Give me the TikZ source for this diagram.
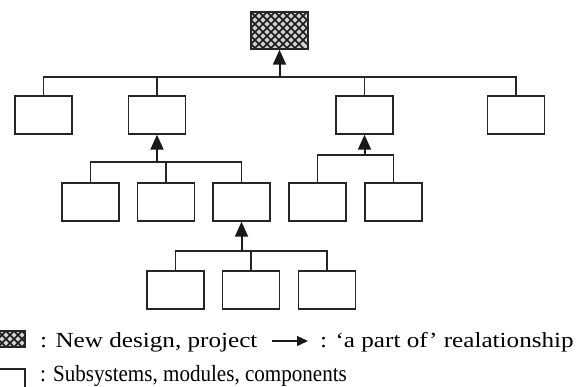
\documentclass[tikz,border=0pt]{standalone}
\usepackage{fontspec}
\setmainfont{Liberation Serif}
\usetikzlibrary{arrows.meta}
\begin{document}
\begin{tikzpicture}[x=1pt,y=-1pt,
  box/.style={draw=black!85,line width=1.4pt,minimum width=57pt,minimum height=38pt,inner sep=0pt,fill=white},
  conn/.style={draw=black!85,line width=1.2pt},
  partof/.style={draw=black!90,line width=2pt,-{Triangle[length=15pt,width=13pt]}},
  legtext/.style={anchor=base west,inner sep=0pt,font=\fontsize{21.5}{24}\selectfont}]
\useasboundingbox (0,0) rectangle (585,387);
% hatched helper
\newcommand{\hatchfill}[4]{%
  \begin{scope}
    \clip (#1,#2) rectangle (#3,#4);
    \fill[black!18] (#1,#2) rectangle (#3,#4);
    \foreach \k in {-80,-72,...,80}{
      \draw[black!90,line width=1.7pt] (#1+\k,#2) -- ++(60,60);
      \draw[black!90,line width=1.7pt] (#1+\k,#2) -- ++(-60,60);
    }
  \end{scope}}
% root
\hatchfill{251}{12}{308}{49}
\node[box,fill=none,minimum height=37pt] (r) at (279.5,30.5) {};
% level 1
\node[box] (a1) at (43.5,115) {};
\node[box] (a2) at (157,115) {};
\node[box] (a3) at (364.5,115) {};
\node[box] (a4) at (516,115) {};
% level 2
\node[box] (c1) at (90.5,202) {};
\node[box] (c2) at (166,202) {};
\node[box] (c3) at (241.5,202) {};
\node[box] (d1) at (317.5,202) {};
\node[box] (d2) at (393.5,202) {};
% level 3
\node[box] (e1) at (175.5,290) {};
\node[box] (e2) at (251,290) {};
\node[box] (e3) at (327,290) {};
% bus coordinates
\coordinate (b1) at (0,77);
\coordinate (b2) at (0,162);
\coordinate (b3) at (0,155);
\coordinate (b4) at (0,251);
% buses
\draw[conn] (a1.north) |- (a4.north |- b1) -- (a4.north);
\draw[conn] (a2.north) -- (a2.north |- b1);
\draw[conn] (a3.north) -- (a3.north |- b1);
\draw[partof] (r.south |- b1) -- (r.south);
\draw[conn] (c1.north) |- (c3.north |- b2) -- (c3.north);
\draw[conn] (c2.north) -- (c2.north |- b2);
\draw[partof] (a2.south |- b2) -- (a2.south);
\draw[conn] (d1.north) |- (d2.north |- b3) -- (d2.north);
\draw[partof] (a3.south |- b3) -- (a3.south);
\draw[conn] (e1.north) |- (e3.north |- b4) -- (e3.north);
\draw[conn] (e2.north) -- (e2.north |- b4);
\draw[partof] (c3.south |- b4) -- (c3.south);
% legend
\hatchfill{-2}{331}{25}{347}
\draw[black!85,line width=1.3pt] (-2,331) rectangle (25,347);
\node[legtext] (l1) at (40,347) {\scalebox{1.17}[1]{: New design, project}};
\coordinate (la) at (272,341);
\coordinate (lb) at (308,341);
\draw[black!90,line width=1.3pt,-{Triangle[length=11pt,width=10pt]}] (la) -- (lb);
\node[legtext] (l2) at (320,347) {\scalebox{1.17}[1]{: `a part of' realationship}};
\draw[black!85,line width=1.3pt] (-2,369) -- (25,369) -- (25,392);
\node[legtext,font=\fontsize{21.5}{24}\selectfont] (l3) at (40,381.5) {\scalebox{0.98}[1.08]{: Subsystems, modules, components}};
\end{tikzpicture}
\end{document}
